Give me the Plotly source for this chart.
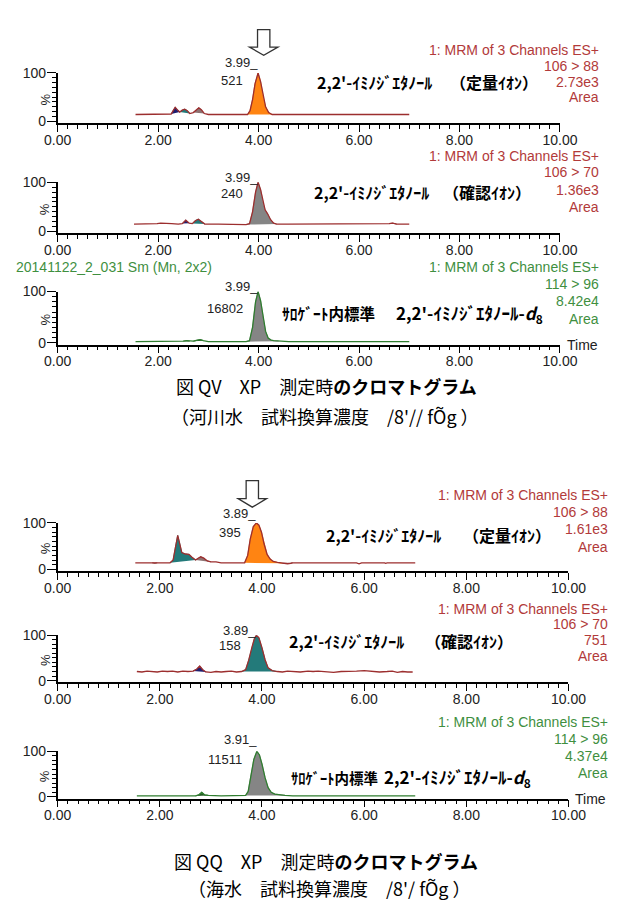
import plotly.graph_objects as go

W, H = 633, 907

# ---------------- data (time in min, intensity in %) ----------------
t1 = [1.55, 2.0, 2.2, 2.26, 2.3, 2.34, 2.38, 2.43, 2.48, 2.53, 2.58, 2.63, 2.7, 2.76, 2.81, 2.86, 2.92, 3.0,
      3.3, 3.6, 3.72, 3.78, 3.83, 3.88, 3.93, 3.99, 4.04, 4.09, 4.14, 4.2, 4.27, 4.5, 5.0, 5.5, 5.8, 6.0,
      6.3, 6.5, 6.7, 7.0]
i1 = [14, 14, 14, 15, 22, 29, 24, 19, 23, 25, 22, 16, 18, 24, 28, 24, 16, 14,
      14, 14, 13, 14, 22, 45, 78, 100, 82, 52, 30, 18, 14, 14, 14, 14, 13, 14,
      14, 13, 14, 14]

t2 = [1.52, 1.9, 1.98, 2.05, 2.2, 2.27, 2.4, 2.48, 2.55, 2.62, 2.68, 2.74, 2.8, 2.86, 2.93, 3.2, 3.5,
      3.75, 3.82, 3.88, 3.94, 3.99, 4.04, 4.09, 4.13, 4.18, 4.24, 4.3, 4.36, 4.6, 5.0, 5.5, 6.0, 6.5,
      6.6, 6.67, 6.75, 7.0]
i2 = [15, 15, 16, 17, 17, 16, 15, 16, 23, 17, 16, 22, 25, 21, 15, 15, 15,
      14, 16, 40, 80, 100, 85, 58, 44, 36, 24, 17, 15, 15, 15, 15, 15, 15,
      16, 17, 15, 15]

t3 = [1.55, 2.0, 2.4, 2.5, 2.57, 2.63, 2.7, 2.78, 2.84, 2.9, 3.0, 3.4, 3.75, 3.82, 3.88, 3.94, 3.99,
      4.04, 4.09, 4.14, 4.19, 4.25, 4.3, 4.4, 4.6, 5.0, 6.0, 7.0]
i3 = [2, 2, 2, 3, 4, 3, 3, 5, 6, 4, 2, 2, 2, 4, 30, 80, 100,
      82, 50, 22, 9, 5, 4, 3, 2, 2, 2, 2]

t4 = [1.52, 1.85, 1.9, 1.95, 2.2, 2.26, 2.3, 2.35, 2.39, 2.43, 2.5, 2.57, 2.63, 2.7, 2.75, 2.8, 2.86,
      2.93, 3.0, 3.1, 3.2, 3.5, 3.66, 3.72, 3.77, 3.83, 3.89, 3.94, 3.99, 4.04, 4.1, 4.16, 4.22, 4.3,
      4.4, 4.5, 4.56, 4.6, 5.0, 5.5, 5.85, 5.9, 5.95, 6.4, 6.42, 6.45, 7.0]
i4 = [14, 14, 13, 14, 14, 20, 45, 73, 55, 36, 33, 32, 26, 20, 24, 27, 24,
      18, 16, 16, 14, 14, 14, 30, 65, 92, 100, 95, 80, 55, 32, 22, 17, 15,
      13, 12, 13, 14, 14, 14, 14, 12, 14, 14, 13, 14, 14]

t5 = [1.55, 1.65, 1.75, 1.85, 1.95, 2.05, 2.15, 2.25, 2.35, 2.45, 2.55, 2.65, 2.72, 2.78, 2.84, 2.9,
      3.0, 3.1, 3.2, 3.3, 3.4, 3.5, 3.6, 3.68, 3.74, 3.8, 3.85, 3.89, 3.94, 4.0, 4.06, 4.12, 4.2, 4.3,
      4.4, 4.5, 4.6, 4.75, 4.9, 5.0, 5.1, 5.25, 5.4, 5.55, 5.7, 5.85, 6.0, 6.15, 6.3, 6.45, 6.55, 6.65,
      6.75, 6.85, 6.95]
i5 = [20, 19, 21, 20, 19, 21, 20, 21, 19, 21, 20, 21, 25, 32, 24, 19,
      18, 20, 19, 20, 21, 19, 20, 24, 45, 72, 92, 100, 94, 72, 46, 28, 22, 20,
      19, 21, 20, 19, 21, 20, 21, 19, 18, 20, 20, 21, 22, 20, 19, 20, 21, 18,
      20, 19, 19]

t6 = [1.55, 2.0, 2.5, 2.7, 2.76, 2.82, 2.88, 2.95, 3.2, 3.5, 3.68, 3.73, 3.78, 3.84, 3.9, 3.95, 4.0,
      4.06, 4.12, 4.18, 4.25, 4.35, 4.45, 4.6, 5.0, 6.0, 7.0]
i6 = [2, 2, 2, 2, 4, 10, 4, 3, 2, 2, 3, 12, 45, 82, 100, 92, 72,
      42, 20, 10, 6, 4, 3, 2, 2, 2, 2]

# integrated peak windows (start, end, colour key)
peaks1 = [(2.26, 2.43, "navy"), (2.43, 2.63, "teal"), (2.7, 2.92, "mauve"), (3.78, 4.27, "orange")]
peaks2 = [(2.48, 2.62, "navy"), (2.68, 2.93, "teal"), (3.75, 4.36, "gray"), (6.6, 6.75, "maroon")]
peaks3 = [(2.5, 2.63, "dkgreen"), (2.7, 2.95, "dkgreen"), (3.75, 4.4, "gray")]
peaks4 = [(1.85, 1.95, "maroon"), (2.2, 2.7, "teal"), (2.7, 3.0, "mauve"), (3.66, 4.4, "orange"),
          (4.4, 4.6, "maroon")]
peaks5 = [(2.65, 2.9, "navy"), (3.6, 4.3, "teal")]
peaks6 = [(2.7, 2.95, "dkgreen"), (3.68, 4.45, "gray")]

rt_labels = ["3.99", "3.99", "3.99", "3.89", "3.89", "3.91"]
rt_peak = [3.99, 3.99, 3.99, 3.89, 3.89, 3.91]
height_labels = ["521", "240", "16802", "395", "158", "11511"]
channels = ["106 > 88", "106 > 70", "114 > 96", "106 > 88", "106 > 70", "114 > 96"]
areas = ["2.73e3", "1.36e3", "8.42e4", "1.61e3", "751", "4.37e4"]
header = "1: MRM of 3 Channels ES+"
sample_name = "20141122_2_031 Sm (Mn, 2x2)"
x_tick_vals = [0, 2, 4, 6, 8, 10]
x_tick_text = ["0.00", "2.00", "4.00", "6.00", "8.00", "10.00"]

# ---------------- styling ----------------
FILL = {"navy": "#1e1e70", "teal": "#237a7a", "mauve": "#8e7272", "orange": "#ff8412",
        "gray": "#858585", "maroon": "#6e1e1e", "dkgreen": "#245a24"}
RED_LINE, GREEN_LINE = "#9c2e2e", "#2f7d2f"
RED_TXT, GREEN_TXT = "#b23a3a", "#3f8f3f"
SANS = "Liberation Sans, Arial"
TICKFONT = dict(family=SANS, size=14, color="#222")
CJK = "Noto Sans CJK JP"


def px(x):
    return x / W


def py(y):
    return 1 - y / H


C1 = "<b>2,2'-ｲﾐﾉｼﾞｴﾀﾉｰﾙ</b>"
CD8 = "<b>2,2'-ｲﾐﾉｼﾞｴﾀﾉｰﾙ-<i>d</i><sub>8</sub></b>"
SUR = "<b>ｻﾛｹﾞｰﾄ内標準</b>"
panels = [
    dict(t=t1, i=i1, pk=peaks1, top=66, zero=115, x1=575, tr=618, red=True,
         hdr=[43, 59, 75, 90], comp=75, rt=[55, 74],
         comp_txt=[(317, C1, 16), (457, "<b>（定量ｲｵﾝ）</b>", 16)], time=False),
    dict(t=t2, i=i2, pk=peaks2, top=177, zero=227, x1=575, tr=618, red=True,
         hdr=[150, 167, 185, 202], comp=187, rt=[172, 188],
         comp_txt=[(314, C1, 16), (450, "<b>（確認ｲｵﾝ）</b>", 16)], time=False),
    dict(t=t3, i=i3, pk=peaks3, top=288, zero=340, x1=575, tr=618, red=False,
         hdr=[263, 280, 298, 316], comp=310, rt=[283, 305],
         comp_txt=[(280, SUR, 15.5), (400, CD8, 17)], time=True),
    dict(t=t4, i=i4, pk=peaks4, top=523, zero=570, x1=584, tr=628, red=True,
         hdr=[495, 512, 529, 547], comp=535, rt=[513, 533],
         comp_txt=[(326, C1, 16), (471, "<b>（定量ｲｵﾝ）</b>", 16)], time=False),
    dict(t=t5, i=i5, pk=peaks5, top=637, zero=683, x1=584, tr=628, red=True,
         hdr=[610, 626, 642, 658], comp=643, rt=[632, 647],
         comp_txt=[(288, C1, 16), (431, "<b>（確認ｲｵﾝ）</b>", 16)], time=False),
    dict(t=t6, i=i6, pk=peaks6, top=755, zero=801, x1=584, tr=628, red=False,
         hdr=[725, 742, 760, 777], comp=782, rt=[743, 763],
         comp_txt=[(290, SUR, 14.5), (388, CD8, 17)], time=True),
]

fig = go.Figure()
annotations = []
shapes = []
X0 = 46

for k, p in enumerate(panels):
    n = "" if k == 0 else str(k + 1)
    xa, ya = "x" + n, "y" + n
    line_col = RED_LINE if p["red"] else GREEN_LINE
    txt_col = RED_TXT if p["red"] else GREEN_TXT
    # peak fills (polygon closes along straight baseline between integration limits)
    for (s, e, c) in p["pk"]:
        seg = [(tt, ii) for tt, ii in zip(p["t"], p["i"]) if s - 1e-9 <= tt <= e + 1e-9]
        fig.add_trace(go.Scatter(x=[a for a, _ in seg], y=[b for _, b in seg], mode="lines",
                                 fill="toself", fillcolor=FILL[c], line=dict(color=FILL[c], width=0.8),
                                 xaxis=xa, yaxis=ya, hoverinfo="skip", showlegend=False))
    fig.add_trace(go.Scatter(x=p["t"], y=p["i"], mode="lines", line=dict(color=line_col, width=1.3),
                             xaxis=xa, yaxis=ya, showlegend=False))
    bottom = p["zero"] + 2
    ydom = [py(bottom), py(p["top"])]
    lay_x = dict(domain=[px(X0), px(p["x1"])], range=[0, 10], anchor=ya, showgrid=False, zeroline=False,
                 showline=True, linecolor="black", linewidth=1.5, ticks="outside", ticklen=7,
                 tickwidth=1.2, tickcolor="black", tickvals=x_tick_vals, ticktext=x_tick_text,
                 tickfont=TICKFONT, ticklabelstandoff=-4,
                 minor=dict(dtick=0.2, tick0=0, ticks="outside", ticklen=4, tickcolor="black",
                            tickwidth=1, showgrid=False))
    lay_y = dict(domain=ydom, range=[-4, 100], anchor=xa, showgrid=False, zeroline=False,
                 showline=True, linecolor="black", linewidth=1.5, ticks="outside", ticklen=9,
                 tickcolor="black", tickvals=[0, 100], ticktext=["0", "100"], tickfont=TICKFONT,
                 ticklabelstandoff=-2,
                 minor=dict(dtick=10, tick0=0, ticks="outside", ticklen=4, tickcolor="black",
                            showgrid=False))
    fig.update_layout({"xaxis" + n: lay_x, "yaxis" + n: lay_y})

    # % label
    annotations.append(dict(x=px(33), y=py((p["top"] + p["zero"]) / 2 + 2), xref="paper", yref="paper",
                            text="%", textangle=-90, showarrow=False, xanchor="center", yanchor="middle",
                            font=dict(family=SANS, size=13, color="#222")))
    # right-hand channel info
    for txt, yy in zip([header, channels[k], areas[k], "Area"], p["hdr"]):
        annotations.append(dict(x=px(p["tr"]), y=py(yy), xref="paper", yref="paper", text=txt,
                                showarrow=False, xanchor="right", yanchor="middle",
                                font=dict(family=SANS, size=14, color=txt_col)))
    # compound label
    for xx, txt, fs in p["comp_txt"]:
        annotations.append(dict(x=px(xx), y=py(p["comp"]), xref="paper", yref="paper", text=txt,
                                showarrow=False, xanchor="left", yanchor="middle",
                                font=dict(family=CJK, size=fs, color="black")))
    # peak annotations
    annotations.append(dict(x=rt_peak[k] + 0.03, y=py(p["rt"][0]), xref=xa, yref="paper",
                            text=rt_labels[k] + "_", showarrow=False, xanchor="right", yanchor="middle",
                            font=dict(family=SANS, size=13, color="#222")))
    annotations.append(dict(x=rt_peak[k] - 0.26, y=py(p["rt"][1]), xref=xa, yref="paper",
                            text=height_labels[k], showarrow=False, xanchor="right", yanchor="middle",
                            font=dict(family=SANS, size=13, color="#222")))
    if p["time"]:
        annotations.append(dict(x=px(p["x1"] + 5), y=py(p["zero"] + 2), xref="paper", yref="paper",
                                text="Time", showarrow=False, xanchor="left", yanchor="middle",
                                font=dict(family=SANS, size=14, color="#222")))

annotations.append(dict(x=0, y=py(263), xref="paper", yref="paper", text=sample_name, showarrow=False,
                        xanchor="left", yanchor="middle",
                        font=dict(family=SANS, size=14, color=GREEN_TXT)))

captions = [
    (384, 329, "図 QV　XP　測定時<b>のクロマトグラム</b>", 18),
    (414, 328, "（河川水　試料換算濃度　/8'// fÕg ）", 18),
    (866, 329, "図 QQ　XP　測定時<b>のクロマトグラム</b>", 18),
    (894, 332, "（海水　試料換算濃度　/8'/ fÕg ）", 18),
]
for yy, xx, txt, fs in captions:
    annotations.append(dict(x=px(xx), y=py(yy), xref="paper", yref="paper", text=txt, showarrow=False,
                            xanchor="center", yanchor="middle",
                            font=dict(family=CJK, size=fs, color="black")))


def arrow_path(cx, ytop, ybot):
    ys = ytop + (ybot - ytop) * 0.68
    pts = [(cx - 6.5, ytop), (cx + 6.5, ytop), (cx + 6.5, ys), (cx + 15, ys), (cx, ybot),
           (cx - 15, ys), (cx - 6.5, ys)]
    return "M " + " L ".join(f"{px(a):.5f},{py(b):.5f}" for a, b in pts) + " Z"


for cx, yt, yb in [(263, 22, 48), (251, 480, 507)]:
    shapes.append(dict(type="path", xref="paper", yref="paper", path=arrow_path(cx, yt, yb),
                       line=dict(color="#333", width=1.3), fillcolor="white"))

fig.update_layout(width=W, height=H, margin=dict(l=0, r=0, t=0, b=0), paper_bgcolor="white",
                  plot_bgcolor="white", annotations=annotations, shapes=shapes, showlegend=False)
fig.write_html("out.html")
